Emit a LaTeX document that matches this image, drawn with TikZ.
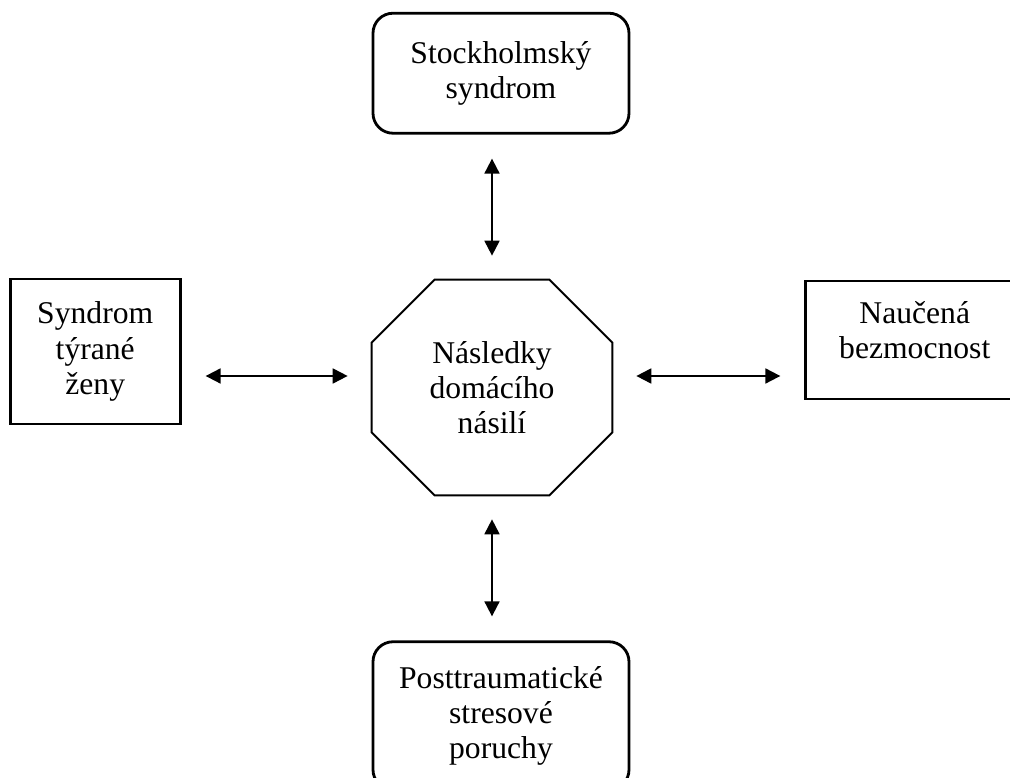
\documentclass[tikz,border=0pt]{standalone}
\usepackage{fontspec}
\setmainfont{Liberation Serif}
\usetikzlibrary{arrows.meta,positioning}
\tikzset{
	box/.style = {draw=black, line width=1.6pt, align=center, inner sep=0pt,
		font=\fontsize{18}{20}\selectfont},% obdelnik
	rbox/.style = {box, rounded corners=0.4cm},% zaobleny obdelnik
	oct/.style = {align=center, inner sep=0pt, font=\fontsize{18}{20}\selectfont,
		minimum width=4.8cm, minimum height=4.3cm},% osmiuhelnik, text
	octline/.style = {draw=black, line width=1.1pt},% osmiuhelnik, obrys
	link/.style = {<->, line width=1.1pt, shorten >=0.48cm, shorten <=0.48cm}% sipka
}

\begin{document}
\begin{tikzpicture}[>={Triangle[length=8.5pt,width=8.5pt]}]
\useasboundingbox (0,0) rectangle (20.2,15.56);
\node [oct] (nasl) at (9.84,7.81) {Následky\\domácího\\násilí};
\draw [octline] ([xshift=1.26cm]nasl.north west) -- ([xshift=-1.26cm]nasl.north east)
	-- ([yshift=-1.26cm]nasl.north east) -- ([yshift=1.26cm]nasl.south east)
	-- ([xshift=-1.26cm]nasl.south east) -- ([xshift=1.26cm]nasl.south west)
	-- ([yshift=1.26cm]nasl.south west) -- ([yshift=-1.26cm]nasl.north west) -- cycle;
\node [rbox, above=2.9cm of nasl, xshift=0.18cm, minimum width=5.12cm,
	minimum height=2.4cm] (stock) {Stockholmský\\syndrom};
\node [rbox, below=2.9cm of nasl, xshift=0.18cm, minimum width=5.12cm,
	minimum height=2.96cm] (ptsd) {Posttraumatické\\stresové\\poruchy};
\node [box, left=3.8cm of nasl, yshift=0.72cm, minimum width=3.4cm,
	minimum height=2.9cm] (tyrana) {Syndrom\\týrané\\ženy};
\node [box, right=3.84cm of nasl, yshift=0.95cm, minimum width=4.36cm,
	minimum height=2.36cm, text depth=0.4cm] (bezmoc) {Naučená\\bezmocnost};
% sipky
\coordinate (osa) at ([yshift=0.23cm]nasl.center);
\draw [link] (stock.south -| nasl.north) -- (nasl.north);
\draw [link] (nasl.south) -- (ptsd.north -| nasl.south);
\draw [link] (osa -| tyrana.east) -- (osa -| nasl.west);
\draw [link] (osa -| nasl.east) -- (osa -| bezmoc.west);
\end{tikzpicture}
\end{document}
